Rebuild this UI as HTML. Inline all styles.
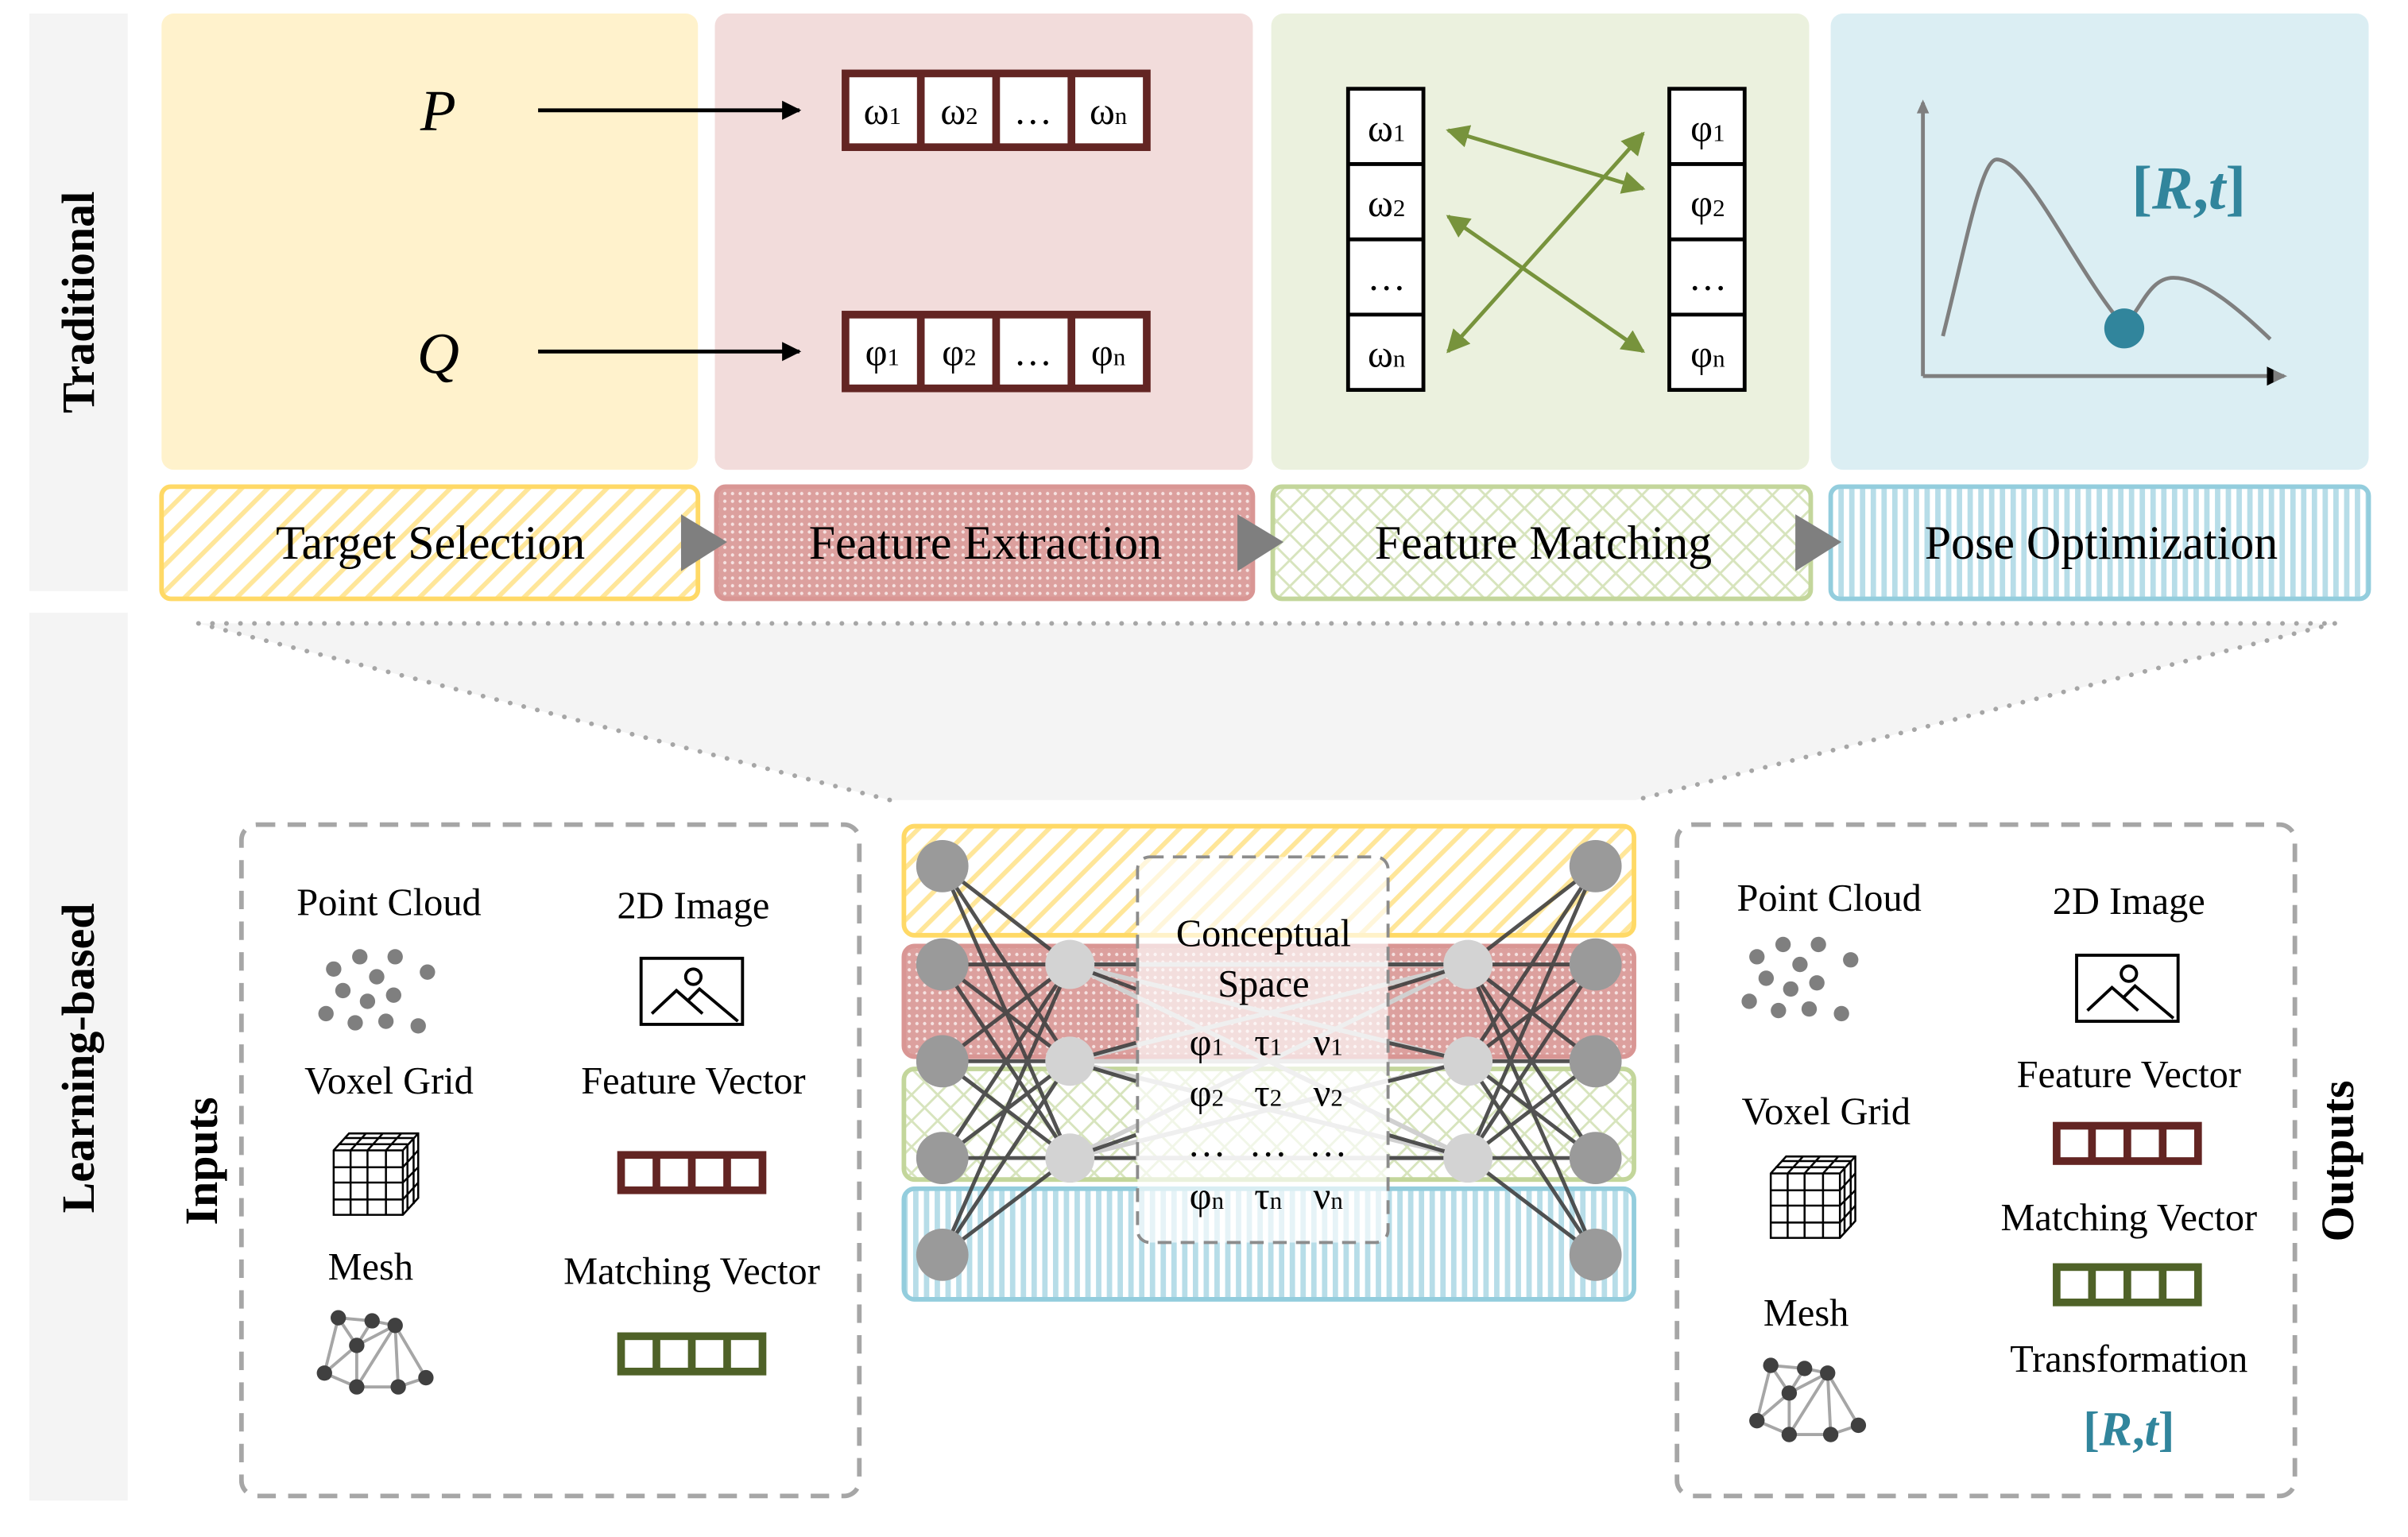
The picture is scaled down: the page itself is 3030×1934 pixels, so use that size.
<!DOCTYPE html>
<html><head><meta charset="utf-8"><style>html,body{margin:0;padding:0;background:#fff}svg{display:block}text{font-family:"Liberation Serif",serif}</style></head><body>
<svg width="3030" height="1934" viewBox="0.9 1.2 1566.7 1000.5" preserveAspectRatio="none" xmlns="http://www.w3.org/2000/svg">
<defs>
<pattern id="pY" width="12" height="12" patternUnits="userSpaceOnUse" patternTransform="rotate(45)"><rect width="12" height="12" fill="#fff"/><rect width="3" height="12" fill="#ffe699"/></pattern>
<pattern id="pR" width="5" height="5" patternUnits="userSpaceOnUse"><rect width="5" height="5" fill="#dca09e"/><circle cx="2.5" cy="2.5" r="1.1" fill="#f6e2e1"/></pattern>
<pattern id="pG" width="12" height="12" patternUnits="userSpaceOnUse" patternTransform="rotate(45)"><rect width="12" height="12" fill="#fff"/><rect width="1.5" height="12" fill="#d7e4bd"/><rect width="12" height="1.5" fill="#d7e4bd"/></pattern>
<pattern id="pB" width="7" height="7" patternUnits="userSpaceOnUse"><rect width="7" height="7" fill="#fff"/><rect width="3.5" height="7" fill="#b7dde8"/></pattern>
<marker id="ah" viewBox="0 0 10 10" refX="9" refY="5" markerWidth="5" markerHeight="5" orient="auto-start-reverse"><path d="M0,0L10,5L0,10z" fill="#000"/></marker>
<marker id="ag" viewBox="0 0 10 10" refX="9" refY="5" markerWidth="6" markerHeight="6" orient="auto-start-reverse"><path d="M0,0L10,5L0,10z" fill="#77933c"/></marker>
</defs>
<rect x="20" y="10" width="64" height="376" fill="#f4f4f4"/>
<rect x="20" y="400" width="64" height="578" fill="#f4f4f4"/>
<text transform="translate(62,198) rotate(-90)" text-anchor="middle" font-size="30" font-weight="bold">Traditional</text>
<text transform="translate(62,690) rotate(-90)" text-anchor="middle" font-size="30" font-weight="bold">Learning-based</text>
<rect x="106" y="10" width="349" height="297" rx="8" fill="#fff2cc"/>
<rect x="466" y="10" width="350" height="297" rx="8" fill="#f2dcdb"/>
<rect x="828" y="10" width="350" height="297" rx="8" fill="#ebf1de"/>
<rect x="1192" y="10" width="350" height="297" rx="8" fill="#dbeef3"/>
<rect x="106" y="318" width="349" height="73" rx="6" fill="url(#pY)" stroke="#ffd966" stroke-width="3"/>
<rect x="467" y="318" width="349" height="73" rx="6" fill="url(#pR)" stroke="#d99694" stroke-width="3"/>
<rect x="829" y="318" width="350" height="73" rx="6" fill="url(#pG)" stroke="#c3d69b" stroke-width="3"/>
<rect x="1192" y="318" width="350" height="73" rx="6" fill="url(#pB)" stroke="#93cddd" stroke-width="3"/>
<g font-size="31" text-anchor="middle"><text x="281" y="365">Target Selection</text><text x="642" y="365">Feature Extraction</text><text x="1005" y="365">Feature Matching</text><text x="1368" y="365">Pose Optimization</text></g>
<g fill="#7f7f7f"><path d="M444,336L474,354L444,373z"/><path d="M806,336L836,354L806,373z"/><path d="M1169,336L1199,354L1169,373z"/></g>
<text x="286" y="86" font-size="38" font-style="italic" text-anchor="middle">P</text>
<text x="286" y="244" font-size="38" font-style="italic" text-anchor="middle">Q</text>
<line x1="351" y1="73" x2="521" y2="73" stroke="#000" stroke-width="2.5" marker-end="url(#ah)"/>
<line x1="351" y1="230" x2="521" y2="230" stroke="#000" stroke-width="2.5" marker-end="url(#ah)"/>
<g stroke="#632523" stroke-width="5" fill="#fff"><rect x="551" y="49" width="196" height="48"/><rect x="551" y="206" width="196" height="48"/><path d="M600,49V97M649,49V97M698,49V97M600,206V254M649,206V254M698,206V254"/></g>
<g font-size="25" text-anchor="middle"><text x="575" y="82">ω<tspan font-size="16">1</tspan></text><text x="625" y="82">ω<tspan font-size="16">2</tspan></text><text x="673" y="82">…</text><text x="722" y="82">ω<tspan font-size="16">n</tspan></text>
<text x="575" y="239">φ<tspan font-size="16">1</tspan></text><text x="625" y="239">φ<tspan font-size="16">2</tspan></text><text x="673" y="239">…</text><text x="722" y="239">φ<tspan font-size="16">n</tspan></text></g>
<g stroke="#000" stroke-width="2.5" fill="#fff"><rect x="878" y="59" width="49" height="196"/><rect x="1087" y="59" width="49" height="196"/><path d="M878,108H927M878,157H927M878,206H927M1087,108H1136M1087,157H1136M1087,206H1136"/></g>
<g font-size="25" text-anchor="middle"><text x="903" y="93">ω<tspan font-size="16">1</tspan></text><text x="903" y="142">ω<tspan font-size="16">2</tspan></text><text x="903" y="190">…</text><text x="903" y="240">ω<tspan font-size="16">n</tspan></text>
<text x="1112" y="93">φ<tspan font-size="16">1</tspan></text><text x="1112" y="142">φ<tspan font-size="16">2</tspan></text><text x="1112" y="190">…</text><text x="1112" y="240">φ<tspan font-size="16">n</tspan></text></g>
<g stroke="#77933c" stroke-width="2.5" marker-start="url(#ag)" marker-end="url(#ag)"><line x1="943" y1="86" x2="1070" y2="124"/><line x1="943" y1="142" x2="1070" y2="230"/><line x1="943" y1="230" x2="1070" y2="88"/></g>
<g stroke="#7f7f7f" stroke-width="2.5" fill="none"><path d="M1252,246V68M1252,246H1487" marker-end="url(#ah)"/><path d="M1265,220C1280,160 1290,105 1300,105C1320,105 1350,175 1383,214C1395,200 1400,182 1415,182C1435,182 1460,205 1478,222"/></g>
<path d="M1248,75L1252,66L1256,75z M1480,242L1489,246L1480,250z" fill="#7f7f7f"/>
<circle cx="1383" cy="215" r="13" fill="#31859c"/>
<text x="1425" y="137" font-size="40" font-weight="bold" fill="#31859c" text-anchor="middle">[<tspan font-style="italic">R</tspan>,<tspan font-style="italic">t</tspan>]</text>
<path d="M130,407H1520L1065,522H580z" fill="#f4f4f4"/>
<path d="M130,407H1520M130,407L580,522M1520,407L1065,522" stroke="#a6a6a6" stroke-width="3" stroke-dasharray="0.1 9" stroke-linecap="round" fill="none"/>
<rect x="158" y="538" width="402" height="437" rx="10" fill="#fff" stroke="#a6a6a6" stroke-width="3" stroke-dasharray="12 8"/>
<rect x="1092" y="538" width="402" height="437" rx="10" fill="#fff" stroke="#a6a6a6" stroke-width="3" stroke-dasharray="12 8"/>
<text transform="translate(142,757) rotate(-90)" text-anchor="middle" font-size="30" font-weight="bold">Inputs</text>
<text transform="translate(1532,757) rotate(-90)" text-anchor="middle" font-size="30" font-weight="bold">Outputs</text>
<g font-size="25" text-anchor="middle">
<text x="254" y="597">Point Cloud</text><text x="452" y="599">2D Image</text><text x="254" y="713">Voxel Grid</text><text x="452" y="713">Feature Vector</text><text x="242" y="834">Mesh</text><text x="451" y="837">Matching Vector</text>
<text x="1191" y="594">Point Cloud</text><text x="1386" y="596">2D Image</text><text x="1386" y="709">Feature Vector</text><text x="1189" y="733">Voxel Grid</text><text x="1386" y="802">Matching Vector</text><text x="1176" y="864">Mesh</text><text x="1386" y="894">Transformation</text></g>
<text x="1386" y="942" font-size="32" font-weight="bold" fill="#31859c" text-anchor="middle">[<tspan font-style="italic">R</tspan>,<tspan font-style="italic">t</tspan>]</text>
<g fill="#7f7f7f"><circle cx="218" cy="632" r="5"/><circle cx="235" cy="624" r="5"/><circle cx="258" cy="624" r="5"/><circle cx="279" cy="634" r="5"/><circle cx="246" cy="637" r="5"/><circle cx="224" cy="646" r="5"/><circle cx="257" cy="649" r="5"/><circle cx="240" cy="653" r="5"/><circle cx="213" cy="661" r="5"/><circle cx="232" cy="667" r="5"/><circle cx="252" cy="666" r="5"/><circle cx="273" cy="669" r="5"/></g>
<g transform="translate(926,-8)" fill="#7f7f7f"><circle cx="218" cy="632" r="5"/><circle cx="235" cy="624" r="5"/><circle cx="258" cy="624" r="5"/><circle cx="279" cy="634" r="5"/><circle cx="246" cy="637" r="5"/><circle cx="224" cy="646" r="5"/><circle cx="257" cy="649" r="5"/><circle cx="240" cy="653" r="5"/><circle cx="213" cy="661" r="5"/><circle cx="232" cy="667" r="5"/><circle cx="252" cy="666" r="5"/><circle cx="273" cy="669" r="5"/></g>
<g fill="none" stroke="#000" stroke-width="2"><rect x="418" y="625" width="66" height="43"/><circle cx="452" cy="637" r="5"/><path d="M425,661L441,646L458,661M449,652L456,645L481,666"/></g>
<g transform="translate(934,-2)" fill="none" stroke="#000" stroke-width="2"><rect x="418" y="625" width="66" height="43"/><circle cx="452" cy="637" r="5"/><path d="M425,661L441,646L458,661M449,652L456,645L481,666"/></g>
<g fill="#fff" stroke="#000" stroke-width="1.3"><path d="M218,750L228,739H273V781L263,792H218z"/><path d="M218,750H263V792M263,750L273,739M218,761H263M218,771H263M218,782H263M229,750V792M240,750V792M252,750V792M221,746H266M225,742H270M229,750L239,739M240,750L250,739M252,750L262,739M263,761L273,750M263,771L273,761M263,782L273,771M266,746V789M270,742V785"/></g>
<g transform="translate(935,15)" fill="#fff" stroke="#000" stroke-width="1.3"><path d="M218,750L228,739H273V781L263,792H218z"/><path d="M218,750H263V792M263,750L273,739M218,761H263M218,771H263M218,782H263M229,750V792M240,750V792M252,750V792M221,746H266M225,742H270M229,750L239,739M240,750L250,739M252,750L262,739M263,761L273,750M263,771L273,761M263,782L273,771M266,746V789M270,742V785"/></g>
<g><g stroke="#a6a6a6" stroke-width="2" fill="none"><path d="M221,859L243,861L258,864L278,898L260,904L233,904L212,895L221,859L233,877L258,864L260,904M243,861L233,877L233,904M233,877L212,895M258,864L233,904"/></g><g fill="#404040"><circle cx="221" cy="859" r="5"/><circle cx="243" cy="861" r="5"/><circle cx="233" cy="877" r="5"/><circle cx="258" cy="864" r="5"/><circle cx="212" cy="895" r="5"/><circle cx="233" cy="904" r="5"/><circle cx="260" cy="904" r="5"/><circle cx="278" cy="898" r="5"/></g></g>
<g transform="translate(932,31)"><g stroke="#a6a6a6" stroke-width="2" fill="none"><path d="M221,859L243,861L258,864L278,898L260,904L233,904L212,895L221,859L233,877L258,864L260,904M243,861L233,877L233,904M233,877L212,895M258,864L233,904"/></g><g fill="#404040"><circle cx="221" cy="859" r="5"/><circle cx="243" cy="861" r="5"/><circle cx="233" cy="877" r="5"/><circle cx="258" cy="864" r="5"/><circle cx="212" cy="895" r="5"/><circle cx="233" cy="904" r="5"/><circle cx="260" cy="904" r="5"/><circle cx="278" cy="898" r="5"/></g></g>
<g fill="#fff" stroke-width="5"><g stroke="#632523"><rect x="405" y="753" width="92" height="23"/><path d="M428,753V776M451,753V776M474,753V776"/><rect x="1339" y="734" width="92" height="23"/><path d="M1362,734V757M1385,734V757M1408,734V757"/></g>
<g stroke="#4f6228"><rect x="405" y="871" width="92" height="23"/><path d="M428,871V894M451,871V894M474,871V894"/><rect x="1339" y="826" width="92" height="23"/><path d="M1362,826V849M1385,826V849M1408,826V849"/></g></g>
<rect x="589" y="539" width="475" height="71" rx="7" fill="url(#pY)" stroke="#ffd966" stroke-width="3"/>
<rect x="589" y="617" width="475" height="72" rx="7" fill="url(#pR)" stroke="#d99694" stroke-width="3"/>
<rect x="589" y="697" width="475" height="72" rx="7" fill="url(#pG)" stroke="#c3d69b" stroke-width="3"/>
<rect x="589" y="775" width="475" height="72" rx="7" fill="url(#pB)" stroke="#93cddd" stroke-width="3"/>
<g stroke="#d0d0d0" stroke-width="3"><path d="M697,629L956,629M697,629L956,692M697,629L956,755M697,692L956,629M697,692L956,692M697,692L956,755M697,755L956,629M697,755L956,692M697,755L956,755"/></g>
<g stroke="#404040" stroke-width="2.5" opacity="0.9">
<path d="M614,565L697,629M614,565L697,692M614,565L697,755M614,629L697,629M614,629L697,692M614,629L697,755M614,692L697,629M614,692L697,692M614,692L697,755M614,755L697,629M614,755L697,692M614,755L697,755M614,818L697,629M614,818L697,692M614,818L697,755"/>
<path d="M1039,565L956,629M1039,565L956,692M1039,565L956,755M1039,629L956,629M1039,629L956,692M1039,629L956,755M1039,692L956,629M1039,692L956,692M1039,692L956,755M1039,755L956,629M1039,755L956,692M1039,755L956,755M1039,818L956,629M1039,818L956,692M1039,818L956,755"/>
<path d="M697,629L740,629M697,629L740,645M697,692L740,680M697,692L740,705M697,755L740,740M697,755L740,755M956,629L904,629M956,629L904,645M956,692L904,680M956,692L904,705M956,755L904,740M956,755L904,755"/></g>
<rect x="741" y="559" width="163" height="251" rx="8" fill="#fff" fill-opacity="0.65" stroke="#8c8c8c" stroke-width="2" stroke-dasharray="9 6"/>
<g fill="#9a9a9a"><circle cx="614" cy="565" r="17"/><circle cx="614" cy="629" r="17"/><circle cx="614" cy="692" r="17"/><circle cx="614" cy="755" r="17"/><circle cx="614" cy="818" r="17"/><circle cx="1039" cy="565" r="17"/><circle cx="1039" cy="629" r="17"/><circle cx="1039" cy="692" r="17"/><circle cx="1039" cy="755" r="17"/><circle cx="1039" cy="818" r="17"/></g>
<g fill="#d3d3d3"><circle cx="697" cy="629" r="16"/><circle cx="697" cy="692" r="16"/><circle cx="697" cy="755" r="16"/><circle cx="956" cy="629" r="16"/><circle cx="956" cy="692" r="16"/><circle cx="956" cy="755" r="16"/></g>
<g font-size="25" text-anchor="middle"><text x="823" y="617">Conceptual</text><text x="823" y="650">Space</text></g>
<g font-size="25" text-anchor="middle">
<text x="786" y="688">φ<tspan font-size="16">1</tspan></text><text x="826" y="688">τ<tspan font-size="16">1</tspan></text><text x="865" y="688">ν<tspan font-size="16">1</tspan></text>
<text x="786" y="721">φ<tspan font-size="16">2</tspan></text><text x="826" y="721">τ<tspan font-size="16">2</tspan></text><text x="865" y="721">ν<tspan font-size="16">2</tspan></text>
<text x="786" y="754">…</text><text x="826" y="754">…</text><text x="865" y="754">…</text>
<text x="786" y="788">φ<tspan font-size="16">n</tspan></text><text x="826" y="788">τ<tspan font-size="16">n</tspan></text><text x="865" y="788">ν<tspan font-size="16">n</tspan></text></g>
</svg>
</body></html>
